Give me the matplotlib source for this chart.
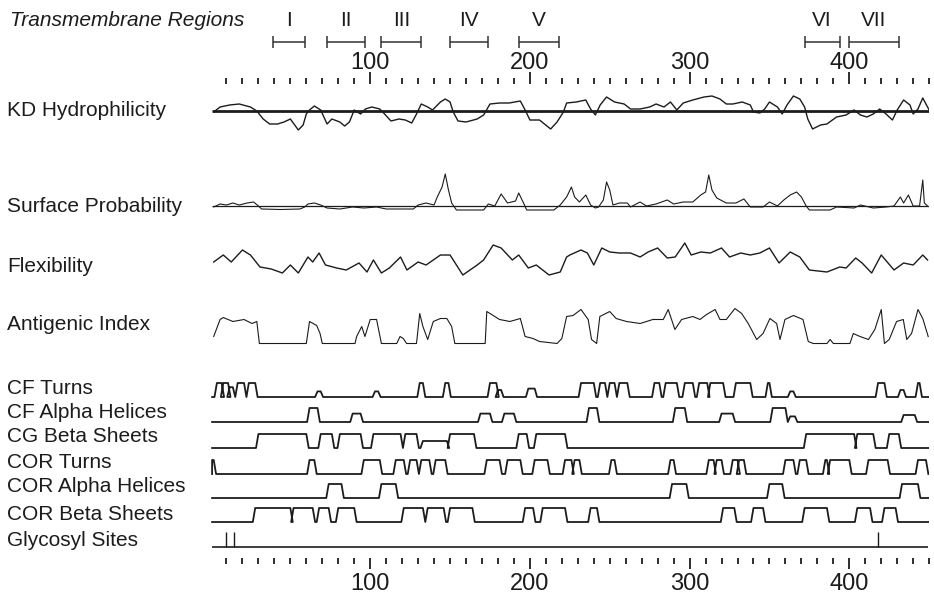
import numpy as np
import matplotlib.pyplot as plt
from matplotlib.ticker import FixedLocator

plt.rcParams['font.family'] = ['Liberation Sans', 'DejaVu Sans']

SEQ_LEN = 450

# transmembrane regions (residues)
tm_start = [39, 73, 107, 150, 193, 372, 400]
tm_end = [59, 97, 132, 174, 218, 394, 431]
tm_names = ['I', 'II', 'III', 'IV', 'V', 'VI', 'VII']

# Kyte-Doolittle hydrophilicity (arbitrary units, + = hydrophilic)
kd_pos = [2, 6, 12, 18, 25, 29, 33, 37, 42, 46, 50, 55, 58, 60, 62, 65, 69, 73, 76, 81,
          84, 87, 90, 94, 97, 101, 106, 109, 113, 118, 122, 126, 129, 132, 136, 139, 144, 147, 150, 152,
          155, 160, 167, 171, 175, 181, 187, 194, 197, 200, 206, 213, 217, 221, 223, 229, 235, 238, 241, 244,
          248, 253, 259, 263, 269, 275, 279, 284, 288, 292, 296, 302, 309, 314, 319, 323, 327, 333, 338, 340,
          344, 347, 350, 355, 358, 361, 365, 369, 372, 374, 377, 382, 386, 392, 398, 403, 407, 411, 415, 419,
          423, 427, 430, 434, 438, 440, 443, 446, 450]
kd_val = [-1, 4, 6, 7, 4, 0, -8, -13, -13, -11, -8, -19, -14, -3, 1, 5, 1, -13, -8, -11,
          -15, -11, 1, -3, 2, 4, 2, -3, -10, -8, -9, -12, -3, 7, 4, 1, 9, 12, 9, -1,
          -10, -11, -8, -4, 7, 8, 8, 10, 1, -9, -9, -18, -11, -1, 8, 9, 11, 2, -4, 6,
          14, 9, 7, 2, 2, 4, 7, 4, 9, 1, 8, 11, 14, 15, 12, 7, 7, 9, 6, -1,
          -2, 2, 9, 4, -3, 6, 15, 12, 4, -8, -18, -14, -13, -6, -4, 1, -4, -6, -3, 2,
          -3, -9, 1, 11, 6, -3, 2, 13, 1]

# Emini surface probability
sp_pos = [2, 6, 10, 14, 18, 23, 27, 30, 32, 44, 56, 59, 61, 65, 69, 73, 81, 89, 96, 104,
          110, 119, 127, 130, 135, 140, 142, 145, 147, 149, 151, 154, 171, 174, 178, 182, 186, 191, 193, 196,
          198, 215, 219, 223, 226, 228, 231, 235, 238, 241, 243, 246, 248, 250, 252, 256, 261, 263, 269, 273,
          279, 286, 290, 296, 302, 307, 310, 312, 314, 317, 323, 329, 334, 338, 346, 350, 355, 359, 363, 367,
          370, 373, 375, 388, 392, 403, 407, 415, 423, 428, 432, 434, 437, 440, 444, 446, 447, 449]
sp_val = [-1, 2, 1, 3, 1, 3, 4, 0, -3, -3.5, -3, -1, 2, 3, 1, -2, -3, -1, -2, -1,
          -3, -3, -3, 1, 3, 1, 9, 19, 32, 16, 3, -4, -4, 2, 0, 12, 3, 5, 13, 3,
          -4, -4, 1, 9, 19, 9, 4, 11, 1, -2, -1, 6, 24, 16, 1, 3, 3, -1, 4, 0,
          2, 6, 2, 4, 4, 11, 14, 31, 16, 8, 3, 3, 7, -1, -1, 4, 0, 6, 11, 14,
          9, 0, -4, -4, -1, -2, 1, -2, -1, 0, 9, 3, 11, 0, 0, 26, 3, 0]

# Karplus-Schulz flexibility
fl_pos = [2, 8, 13, 20, 25, 31, 38, 45, 50, 55, 61, 64, 68, 72, 79, 85, 93, 98, 102, 107,
          112, 119, 123, 130, 135, 144, 150, 158, 167, 171, 177, 182, 189, 193, 199, 204, 212, 219, 223, 225,
          232, 236, 240, 245, 250, 256, 263, 269, 274, 280, 286, 291, 297, 301, 307, 313, 320, 325, 332, 338,
          344, 350, 356, 363, 369, 375, 386, 394, 398, 404, 408, 414, 420, 428, 434, 440, 446, 449]
fl_val = [13, 20, 13, 25, 20, 8, 6, 2, 10, 2, 18, 13, 22, 10, 7, 5, 12, 3, 15, 2,
          7, 18, 5, 13, 10, 20, 20, 0, 10, 15, 30, 27, 15, 20, 7, 10, 0, 3, 18, 20,
          25, 22, 10, 27, 23, 22, 22, 18, 23, 27, 17, 18, 32, 20, 23, 22, 27, 18, 22, 20,
          22, 27, 12, 23, 18, 5, 3, 8, 7, 17, 12, 2, 20, 5, 12, 10, 20, 15]

# Jameson-Wolf antigenic index
ai_pos = [2, 6, 8, 14, 21, 26, 29, 30.6, 60, 62, 66.5, 68.6, 70, 90.5, 91.5, 94.7, 96.7, 100, 104, 107,
          116.6, 118.7, 120.7, 122.8, 129, 131, 133, 136, 139.5, 144, 148, 151, 153, 172, 173, 177, 181, 187.5, 194, 197,
          202, 206, 217, 220, 223, 227, 232, 236.5, 238.6, 241.8, 243.8, 250, 254, 260.5, 269, 277, 283.5, 286.6, 290.8, 295,
          302, 306.5, 310.6, 316, 319, 323, 328.4, 332.6, 336.7, 342, 346, 350.3, 354.5, 356.6, 359.7, 365, 371, 374.3, 377.4, 386,
          388, 390, 400.4, 402.5, 406.7, 412, 416, 420, 422, 425, 429.6, 433.8, 436, 439, 443, 446, 449.4]
ai_val = [7, 24, 26, 22, 24, 20, 22, 0, 0, 22, 18, 10, 0, 0, 7, 17, 7, 24, 24, 0,
          0, 7, 5, 0, 0, 30, 17, 4, 22, 25, 25, 17, 0, 0, 32, 28, 24, 22, 25, 7,
          5, 2, 0, 5, 27, 28, 34, 24, 4, 0, 27, 32, 25, 22, 20, 24, 24, 34, 14, 24,
          27, 24, 29, 34, 24, 24, 35, 30, 20, 4, 10, 25, 20, 4, 24, 28, 24, 2, 0, 0,
          4, 0, 0, 10, 7, 4, 14, 34, 0, 4, 22, 24, 4, 10, 34, 25, 7]

# secondary structure predictions: (start, end, level)
cf_turns = [(4, 7, 1), (8, 11, 1), (12, 14, 0.7), (17, 21, 1), (24, 28, 1), (67, 69, 0.4), (103, 105, 0.4),
            (131, 133, 1), (147, 149, 1), (175, 179, 1), (180, 182, 0.5), (199, 203, 0.6), (232, 240, 1),
            (244, 247, 1), (250, 253, 1), (256, 261, 1), (278, 281, 1), (285, 292, 1), (297, 302, 1),
            (306, 311, 1), (313, 321, 1), (329, 338, 1), (349, 350, 1), (363, 365, 0.4), (418, 422, 1),
            (432, 434, 0.5), (443, 444, 1)]
cf_alpha = [(62, 67, 1), (89, 94, 0.6), (169, 175, 0.6), (184, 190, 0.6), (237, 242, 1), (291, 297, 1),
            (320, 327, 0.6), (352, 360, 1), (363, 366, 0.4), (434, 441, 0.5)]
cg_beta = [(30, 60, 1), (69, 76, 1), (81, 94, 1), (102, 119, 1), (122, 129, 1), (133, 148, 0.5),
           (150, 165, 1), (193, 198, 1), (204, 222, 1), (373, 403, 1), (405, 415, 1), (425, 431, 1)]
cor_turns = [(0, 2, 1), (62, 65, 1), (96, 106, 1), (116, 121, 1), (125, 129, 1), (132, 137, 1),
             (141, 147, 1), (173, 181, 1), (186, 194, 1), (203, 211, 1), (222, 226, 1), (228, 231, 1),
             (251, 253, 1), (288, 290, 1), (312, 315, 1), (317, 320, 1), (327, 330, 1), (331, 334, 1),
             (360, 365, 1), (369, 373, 1), (385, 386, 1), (388, 400, 1), (412, 424, 1), (443, 448, 1)]
cor_alpha = [(74, 82, 1), (107, 116, 1), (289, 298, 1), (350, 358, 1), (433, 443, 1)]
cor_beta = [(28, 50, 1), (52, 64, 1), (68, 74, 1), (80, 90, 1), (121, 133, 1), (136, 146, 1),
            (150, 164, 1), (197, 202, 1), (208, 222, 1), (238, 242, 1), (321, 328, 1), (340, 346, 1),
            (372, 386, 1), (405, 413, 1), (422, 429, 1)]
glyco_sites = [10, 15, 418]

W, H = 934, 595
X0, X1 = 210.5, 210.5 + SEQ_LEN * 1.597
INK = '#1c1c1c'
STEP_PX = 14

fig = plt.figure(figsize=(W / 100, H / 100), dpi=100)


def add_track(y_base, below, above):
    # one unit on y = one pixel
    ax = fig.add_axes([X0 / W, 1 - (y_base + below) / H, (X1 - X0) / W, (below + above) / H])
    ax.set_xlim(0, SEQ_LEN)
    ax.set_ylim(-below, above)
    ax.axis('off')
    return ax


def step_trace(regions, ramp=1.5):
    xs, ys = [1], [0]
    for s, e, h in sorted(regions):
        xs += [s - ramp, s, e, e + ramp]
        ys += [0, h * STEP_PX, h * STEP_PX, 0]
    xs.append(SEQ_LEN - 0.5)
    ys.append(0)
    return np.clip(xs, 1, SEQ_LEN - 0.5), np.array(ys)


def add_ruler(y_px, top):
    ax = fig.add_axes([X0 / W, 1 - y_px / H, (X1 - X0) / W, 0.0001])
    ax.set_xlim(0, SEQ_LEN)
    ax.set_yticks([])
    for s in ax.spines.values():
        s.set_visible(False)
    ax.xaxis.set_major_locator(FixedLocator([100, 200, 300, 400]))
    ax.xaxis.set_minor_locator(FixedLocator(np.arange(10, SEQ_LEN + 1, 10)))
    if top:
        ax.xaxis.tick_top()
        ax.tick_params(which='major', length=9, pad=-2)
    else:
        ax.tick_params(which='major', length=8, pad=3)
    ax.tick_params(which='both', width=1.3, color=INK, labelsize=17, labelcolor=INK)
    ax.tick_params(which='minor', length=4.5)
    return ax


# transmembrane brackets
ax = add_track(42, 8, 36)
ctr = [(s + e) / 2 for s, e in zip(tm_start, tm_end)]
half = [(e - s) / 2 for s, e in zip(tm_start, tm_end)]
ax.errorbar(ctr, [0] * len(ctr), xerr=half, fmt='none', ecolor='#333333', elinewidth=1.1,
            capsize=4.5, capthick=1.1)
for c, n in zip(ctr, tm_names):
    ax.text(c, 22, n, ha='center', va='center', fontsize=15, color=INK)

add_ruler(84, True)
add_ruler(558, False)

# hydrophilicity
ax = add_track(111, 22, 22)
ax.hlines(0, 1, SEQ_LEN, color=INK, lw=2.0)
ax.plot(kd_pos, kd_val, color=INK, lw=1.0)

# surface probability
ax = add_track(206, 8, 36)
ax.hlines(0, 1, SEQ_LEN, color=INK, lw=0.9)
ax.plot(sp_pos, sp_val, color=INK, lw=0.8)

# flexibility
ax = add_track(275, 4, 36)
ax.plot(fl_pos, fl_val, color=INK, lw=1.0)

# antigenic index
ax = add_track(343.5, 4, 38)
ax.plot(ai_pos, ai_val, color=INK, lw=0.8)

# secondary structure tracks
for base, regions in [(397, cf_turns), (422, cf_alpha), (448, cg_beta),
                      (474, cor_turns), (498, cor_alpha), (522, cor_beta)]:
    ax = add_track(base, 4, 20)
    x, y = step_trace(regions)
    ax.plot(x, y, color=INK, lw=1.3)

ax = add_track(547, 4, 20)
ax.hlines(0, 1, SEQ_LEN - 0.5, color=INK, lw=1.2)
ax.vlines(glyco_sites, 0, 15, color=INK, lw=1.0)

# row labels
labels = [('KD Hydrophilicity', 111), ('Surface Probability', 207), ('Flexibility', 266),
          ('Antigenic Index', 325), ('CF Turns', 388), ('CF Alpha Helices', 412),
          ('CG Beta Sheets', 437), ('COR Turns', 462), ('COR Alpha Helices', 487),
          ('COR Beta Sheets', 514), ('Glycosyl Sites', 541)]
for txt, y in labels:
    fig.text(7 / W, 1 - y / H, txt, fontsize=15, va='center', ha='left', color=INK)
fig.text(10 / W, 1 - 20 / H, 'Transmembrane Regions', fontsize=15, style='italic',
         va='center', ha='left', color=INK)

fig.savefig('out.png', dpi=100, facecolor='white')
